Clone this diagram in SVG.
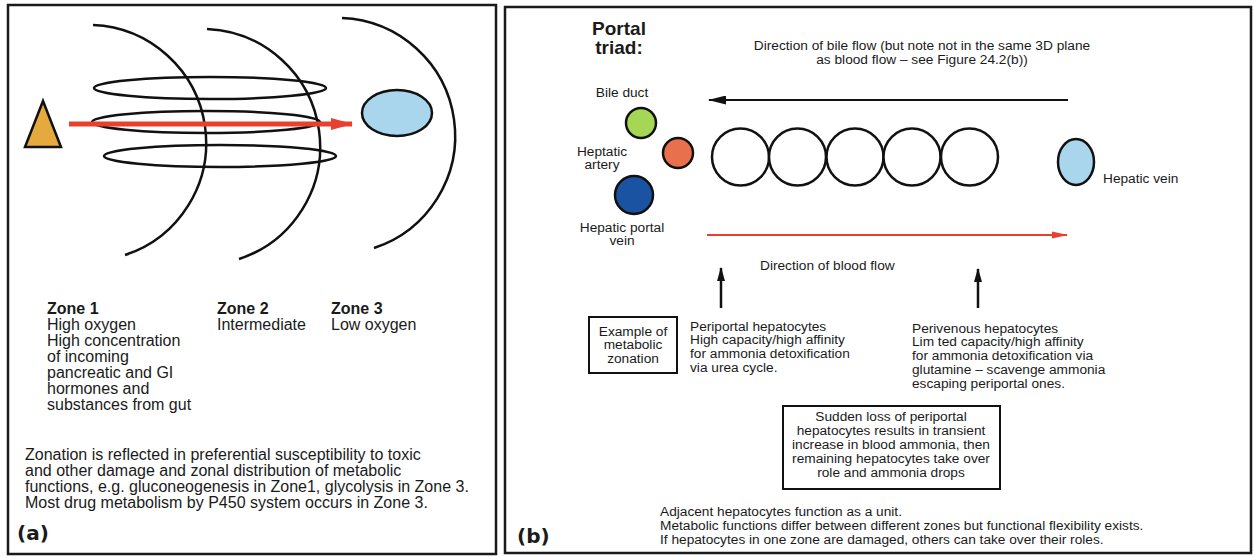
<svg xmlns="http://www.w3.org/2000/svg" width="1254" height="557" viewBox="0 0 1254 557">
<style>
  text { font-family: "Liberation Sans", Arial, sans-serif; fill: #1a1a1a; }
  .t16 { font-size: 16px; }
  .t13 { font-size: 13.7px; }
  .b { font-weight: bold; }
  .lbl { font-family: "DejaVu Sans", Verdana, sans-serif; font-weight: bold; font-size: 20px; }
  .panel { fill: #ffffff; stroke: #1a1a1a; stroke-width: 2.5; }
  .arc { fill: none; stroke: #111; stroke-width: 2.5; }
  .ring { fill: none; stroke: #111; stroke-width: 2.5; }
  .box { fill: #ffffff; stroke: #111; stroke-width: 2; }
  .cell { fill: #ffffff; stroke: #111; stroke-width: 2.5; }
</style>
<defs>
  <marker id="redHeadA" markerWidth="22" markerHeight="12" refX="21" refY="6" orient="auto" markerUnits="userSpaceOnUse">
    <path d="M0,0 L22,6 L0,12 Z" fill="#e8402e"/>
  </marker>
  <marker id="blackHead" markerWidth="18" markerHeight="9" refX="17" refY="4.5" orient="auto" markerUnits="userSpaceOnUse">
    <path d="M0,0 L18,4.5 L0,9 Z" fill="#111"/>
  </marker>
  <marker id="redHead" markerWidth="16" markerHeight="8" refX="15" refY="4" orient="auto" markerUnits="userSpaceOnUse">
    <path d="M0,0.5 L16,4 L0,7.5 Z" fill="#e8402e"/>
  </marker>
  <marker id="upHead" markerWidth="14" markerHeight="8" refX="13" refY="4" orient="auto" markerUnits="userSpaceOnUse">
    <path d="M0,0 L14,4 L0,8 Z" fill="#111"/>
  </marker>
</defs>
<rect width="1254" height="557" fill="#ffffff"/>

<!-- Panel (a) -->
<g id="panel-a">
  <rect class="panel" x="8" y="5" width="488" height="549"/>
  <g id="zone-arcs">
    <path class="arc" d="M93,25 A118,118 0 0 1 125,255"/>
    <path class="arc" d="M207,29 A118,118 0 0 1 239,259"/>
    <path class="arc" d="M342,18 A118,118 0 0 1 374,248"/>
  </g>
  <g id="sinusoid-rings">
    <ellipse class="ring" cx="210" cy="88" rx="116" ry="11"/>
    <ellipse class="ring" cx="206" cy="122" rx="114" ry="11"/>
    <ellipse class="ring" cx="220" cy="156" rx="116" ry="11"/>
  </g>
  <g id="portal-triangle">
    <polygon points="25,147 43,101 61,147" fill="#e6a93e" stroke="#111" stroke-width="2.5"/>
  </g>
  <g id="central-vein-a">
    <ellipse cx="397" cy="113" rx="35" ry="23" fill="#a9d6ec" stroke="#111" stroke-width="2.5"/>
  </g>
  <g id="zone1-text">
    <text class="t16 b" x="47" y="314">Zone 1</text>
    <text class="t16" x="47" y="330">High oxygen</text>
    <text class="t16" x="47" y="346">High concentration</text>
    <text class="t16" x="47" y="362">of incoming</text>
    <text class="t16" x="47" y="378">pancreatic and GI</text>
    <text class="t16" x="47" y="394">hormones and</text>
    <text class="t16" x="47" y="410">substances from gut</text>
  </g>
  <g id="zone2-text">
    <text class="t16 b" x="217" y="314">Zone 2</text>
    <text class="t16" x="217" y="330">Intermediate</text>
  </g>
  <g id="zone3-text">
    <text class="t16 b" x="331" y="314">Zone 3</text>
    <text class="t16" x="331" y="330">Low oxygen</text>
  </g>
  <g id="zonation-note">
    <text class="t16" x="25" y="460">Zonation is reflected in preferential susceptibility to toxic</text>
    <text class="t16" x="25" y="476">and other damage and zonal distribution of metabolic</text>
    <text class="t16" x="25" y="492">functions, e.g. gluconeogenesis in Zone1, glycolysis in Zone 3.</text>
    <text class="t16" x="25" y="508">Most drug metabolism by P450 system occurs in Zone 3.</text>
  </g>
  <text class="lbl" x="17" y="540">(a)</text>
</g>

<!-- Panel (b) -->
<g id="panel-b">
  <rect class="panel" x="505" y="7" width="746" height="546"/>
  <text class="b" x="619" y="35" font-size="19" text-anchor="middle">Portal</text>
  <text class="b" x="619" y="54" font-size="19" text-anchor="middle">triad:</text>
  <g id="bile-flow-label">
    <text class="t13" x="922" y="50" text-anchor="middle">Direction of bile flow (but note not in the same 3D plane</text>
    <text class="t13" x="922" y="64" text-anchor="middle">as blood flow – see Figure 24.2(b))</text>
  </g>
  <g id="bile-duct">
    <text class="t13" x="622" y="97" text-anchor="middle">Bile duct</text>
    <circle cx="641" cy="123" r="15" fill="#a5d654" stroke="#111" stroke-width="2.5"/>
  </g>
  <g id="hepatic-artery">
    <text class="t13" x="602" y="156" text-anchor="middle">Heptatic</text>
    <text class="t13" x="602" y="169" text-anchor="middle">artery</text>
    <circle cx="678" cy="153" r="15" fill="#e8704c" stroke="#111" stroke-width="2.5"/>
  </g>
  <g id="hepatic-portal-vein">
    <circle cx="634" cy="195" r="19" fill="#1b53a3" stroke="#111" stroke-width="2.5"/>
    <text class="t13" x="622" y="232" text-anchor="middle">Hepatic portal</text>
    <text class="t13" x="622" y="245" text-anchor="middle">vein</text>
  </g>
  <g id="hepatocytes">
    <circle class="cell" cx="740.5" cy="157" r="28.5"/>
    <circle class="cell" cx="797.5" cy="157" r="28.5"/>
    <circle class="cell" cx="855" cy="157" r="28.5"/>
    <circle class="cell" cx="912" cy="157" r="28.5"/>
    <circle class="cell" cx="969.5" cy="157" r="28.5"/>
  </g>
  <g id="hepatic-vein">
    <ellipse cx="1076" cy="162" rx="18" ry="23" fill="#a9d6ec" stroke="#111" stroke-width="2.5"/>
    <text class="t13" x="1103" y="183">Hepatic vein</text>
  </g>
  <g id="blood-flow-label">
    <text class="t13" x="760" y="270">Direction of blood flow</text>
  </g>
  <g id="example-box">
    <rect class="box" x="589" y="317" width="88" height="56"/>
    <text class="t13" x="633" y="336" text-anchor="middle">Example of</text>
    <text class="t13" x="633" y="349" text-anchor="middle">metabolic</text>
    <text class="t13" x="633" y="363" text-anchor="middle">zonation</text>
  </g>
  <g id="periportal-text">
    <text class="t13" x="690" y="331">Periportal hepatocytes</text>
    <text class="t13" x="690" y="344">High capacity/high affinity</text>
    <text class="t13" x="690" y="358">for ammonia detoxification</text>
    <text class="t13" x="690" y="372">via urea cycle.</text>
  </g>
  <g id="perivenous-text">
    <text class="t13" x="912" y="333">Perivenous hepatocytes</text>
    <text class="t13" x="912" y="346">Lim ted capacity/high affinity</text>
    <text class="t13" x="912" y="360">for ammonia detoxification via</text>
    <text class="t13" x="912" y="374">glutamine – scavenge ammonia</text>
    <text class="t13" x="912" y="388">escaping periportal ones.</text>
  </g>
  <g id="sudden-loss-box">
    <rect class="box" x="783" y="406" width="217" height="83"/>
    <text class="t13" x="891" y="421" text-anchor="middle">Sudden loss of periportal</text>
    <text class="t13" x="891" y="435" text-anchor="middle">hepatocytes results in transient</text>
    <text class="t13" x="891" y="449" text-anchor="middle">increase in blood ammonia, then</text>
    <text class="t13" x="891" y="463" text-anchor="middle">remaining hepatocytes take over</text>
    <text class="t13" x="891" y="477" text-anchor="middle">role and ammonia drops</text>
  </g>
  <g id="summary-text">
    <text class="t13" x="660" y="516">Adjacent hepatocytes function as a unit.</text>
    <text class="t13" x="660" y="530">Metabolic functions differ between different zones but functional flexibility exists.</text>
    <text class="t13" x="660" y="544">If hepatocytes in one zone are damaged, others can take over their roles.</text>
  </g>
  <text class="lbl" x="517" y="543">(b)</text>
</g>

<!-- Connectors -->
<g id="connectors">
  <line x1="69" y1="124" x2="352" y2="124" stroke="#e8402e" stroke-width="5" marker-end="url(#redHeadA)"/>
  <line x1="1068" y1="100" x2="709" y2="100" stroke="#111" stroke-width="2" marker-end="url(#blackHead)"/>
  <line x1="707" y1="235" x2="1067" y2="235" stroke="#e8402e" stroke-width="2" marker-end="url(#redHead)"/>
  <line x1="721" y1="308" x2="721" y2="268" stroke="#111" stroke-width="2.5" marker-end="url(#upHead)"/>
  <line x1="978" y1="308" x2="978" y2="269" stroke="#111" stroke-width="2.5" marker-end="url(#upHead)"/>
</g>
</svg>
